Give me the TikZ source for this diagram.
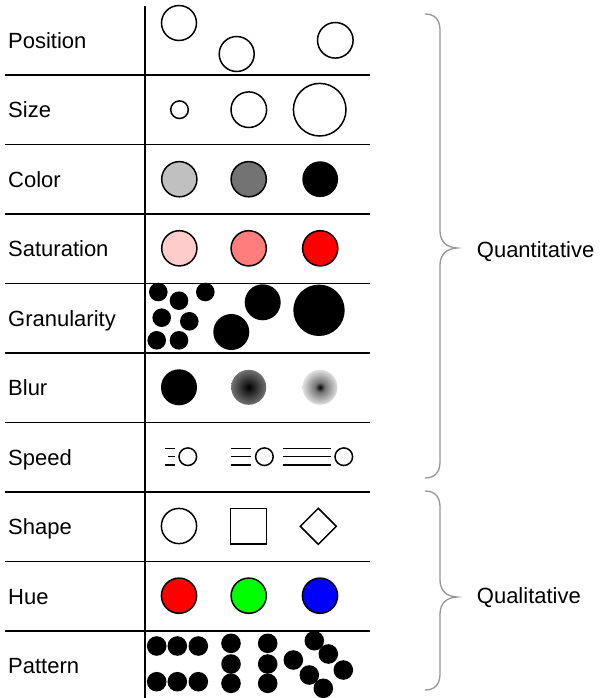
\documentclass[tikz,border=0pt]{standalone}
\usepackage{fontspec}
\setmainfont{Liberation Sans}
\definecolor{cgA}{RGB}{192,192,192}
\definecolor{cgB}{RGB}{115,115,115}
\definecolor{satA}{RGB}{255,204,204}
\definecolor{satB}{RGB}{255,125,125}
\definecolor{hueR}{RGB}{255,0,0}
\definecolor{hueG}{RGB}{0,255,0}
\definecolor{hueB}{RGB}{0,0,255}
\definecolor{bracegray}{RGB}{150,150,150}
\pgfdeclareradialshading{blurmid}{\pgfpointorigin}{color(0bp)=(black); color(25bp)=(black!55); color(50bp)=(black!55)}
\pgfdeclareradialshading{blurhigh}{\pgfpointorigin}{color(0bp)=(black); color(7bp)=(black!55); color(25bp)=(black!12); color(50bp)=(black!12)}
\begin{document}
\begin{tikzpicture}[x=1pt,y=-1pt,
  lbl/.style={anchor=base west,inner sep=0pt,font=\fontsize{22}{26}\selectfont},
  grid/.style={line width=1.8pt,black},
  ring/.style={draw=black,line width=1.5pt},
  dot/.style={fill=black},
  speedline/.style={line width=1.4pt,black},
  brace/.style={draw=bracegray,line width=1.3pt}]
\useasboundingbox (0,0) rectangle (601,698);
% grid
\draw[grid] (145,6) -- (145,698);
\foreach \yy in {75,144.5,214,283.5,353,422.5,492,561.5,631}
  \draw[grid] (5,\yy) -- (370,\yy);
% labels
\node[lbl] (lpos) at (8,48.5) {Position};
\node[lbl] (lsize) at (8,117.8) {Size};
\node[lbl] (lcol) at (8,187.3) {Color};
\node[lbl] (lsat) at (8,256.8) {Saturation};
\node[lbl] (lgran) at (8,326.3) {Granularity};
\node[lbl] (lblur) at (8,395.8) {Blur};
\node[lbl] (lspeed) at (8,465.3) {Speed};
\node[lbl] (lshape) at (8,534.8) {Shape};
\node[lbl] (lhue) at (8,604.3) {Hue};
\node[lbl] (lpat) at (8,673.8) {Pattern};
% position
\draw[ring] (179,23) circle[radius=17.5];
\draw[ring] (236.7,54) circle[radius=17.5];
\draw[ring] (335.3,40.3) circle[radius=17.8];
% size
\draw[ring] (179.5,109.7) circle[radius=8.8];
\draw[ring] (248.8,109.7) circle[radius=17.8];
\draw[ring] (319.7,109.7) circle[radius=26.3];
% color
\draw[ring,fill=cgA] (179.3,179.2) circle[radius=17.6];
\draw[ring,fill=cgB] (248.7,179.2) circle[radius=17.6];
\fill[black] (320.2,179.2) circle[radius=17.9];
% saturation
\draw[ring,fill=satA] (179.3,248.3) circle[radius=17.6];
\draw[ring,fill=satB] (248.7,248.3) circle[radius=17.6];
\draw[ring,fill=hueR] (320.2,248.3) circle[radius=17.6];
% granularity
\foreach \px/\py in {158.3/292,179/300.7,205.3/292,161.7/317.7,189.3/321.3,156.7/340.3,179/340.3}
  \fill[dot] (\px,\py) circle[radius=9.3];
\fill[dot] (231.3,332) circle[radius=18];
\fill[dot] (262.7,302.3) circle[radius=18];
\fill[dot] (319,310.3) circle[radius=25.7];
% blur
\fill[black] (179,387.3) circle[radius=18];
\shade[shading=blurmid] (248.7,387.3) circle[radius=17.5];
\shade[shading=blurhigh] (320,387.3) circle[radius=17.5];
% speed
\draw[speedline] (165,448.7) -- (175,448.7);
\draw[speedline] (168,456.7) -- (175,456.7);
\draw[speedline] (165,465) -- (175,465);
\draw[ring] (187.8,456.7) circle[radius=8.8];
\foreach \yy in {448.7,456.7,465} \draw[speedline] (230.7,\yy) -- (251,\yy);
\draw[ring] (264.4,456.7) circle[radius=8.8];
\foreach \yy in {448.7,456.7,465} \draw[speedline] (283.3,\yy) -- (330.7,\yy);
\draw[ring] (343.8,456.7) circle[radius=8.8];
% shape
\draw[ring] (179,526) circle[radius=17.6];
\draw[ring] (230.7,508.7) rectangle (266.7,544);
\draw[ring] (318.3,508.3) -- (336.3,526.3) -- (318.3,544.3) -- (300.3,526.3) -- cycle;
% hue
\draw[ring,fill=hueR] (179,595.7) circle[radius=17.6];
\draw[ring,fill=hueG] (248.7,595.7) circle[radius=17.6];
\draw[ring,fill=hueB] (320,595.7) circle[radius=17.6];
% pattern
\foreach \px/\py in {156.7/646,177.3/646,198.3/646,156.7/681.7,177.3/681.7,198.3/681.7,
  231/643.3,231/664,231/683.3,267.7/643.3,267.7/664,267.7/683.3,
  314.3/640.7,328.3/654,293.3/660,343.3/670,309.3/675,323.3/688.3}
  \fill[dot] (\px,\py) circle[radius=9.8];
% braces
\draw[brace] (425,14) .. controls (435,14) and (440,20) .. (440,30) -- (440,231)
  .. controls (440,242) and (447,247.5) .. (457,248)
  .. controls (447,248.5) and (440,254) .. (440,265) -- (440,462)
  .. controls (440,472) and (435,478) .. (425,478);
\draw[brace] (425,491) .. controls (435,491) and (440,497) .. (440,507) -- (440,580)
  .. controls (440,591) and (447,596.5) .. (457,597)
  .. controls (447,597.5) and (440,603) .. (440,614) -- (440,674)
  .. controls (440,684) and (435,690) .. (425,690);
\node[lbl] (quant) at (476.7,257.3) {Quantitative};
\node[lbl] (qual) at (476.7,603.3) {Qualitative};
\end{tikzpicture}
\end{document}
